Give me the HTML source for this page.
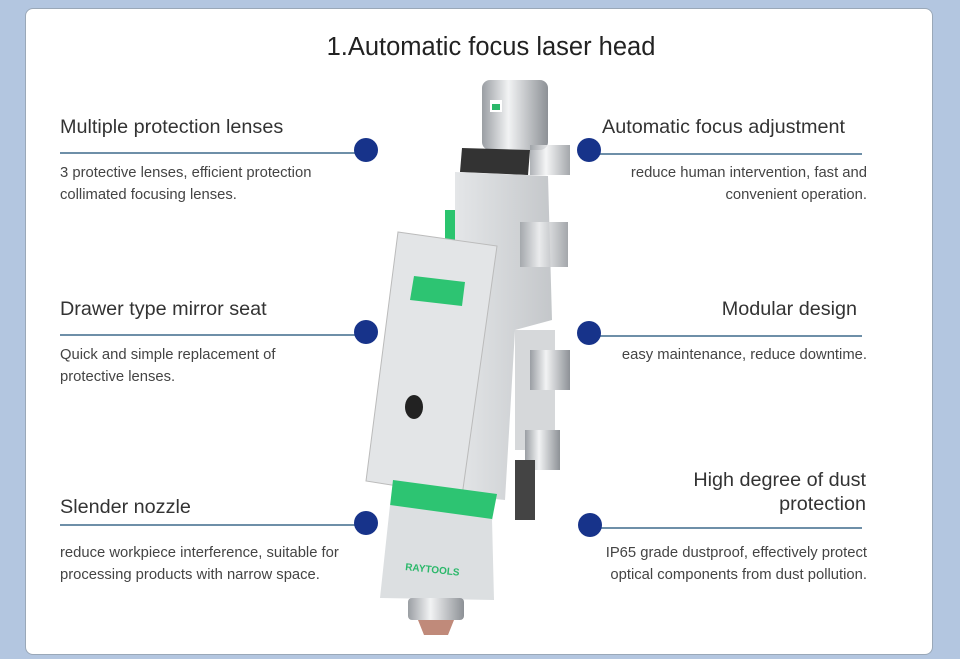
<!DOCTYPE html>
<html><head><meta charset="utf-8"><style>
body{margin:0;width:960px;height:659px;background:#b3c6e0;position:relative;overflow:hidden;font-family:"Liberation Sans",sans-serif}
.card{position:absolute;left:25px;top:8px;width:908px;height:647px;background:#fff;border-radius:8px;border:1px solid #9aa8b8;box-sizing:border-box}
.t{position:absolute;white-space:nowrap}
.h{font-size:19.8px;color:#333}
.d{font-size:14.8px;color:#444;line-height:22px}
.r{text-align:right}
.ln{position:absolute;height:2px;background:#6e8fa8}
.dot{position:absolute;width:24px;height:24px;border-radius:50%;background:#17338a}
</style></head><body>
<div class="card"></div>
<div class="t" style="left:0;width:982px;text-align:center;top:33px;font-size:25.5px;color:#222">1.Automatic focus laser head</div>

<div class="t h" style="left:60px;top:116px">Multiple protection lenses</div>
<div class="ln" style="left:60px;top:152px;width:300px"></div><div class="dot" style="left:354px;top:138px"></div>
<div class="t d" style="left:60px;top:162px">3 protective lenses, efficient protection<br>collimated focusing lenses.</div>

<div class="t h" style="left:60px;top:298px">Drawer type mirror seat</div>
<div class="ln" style="left:60px;top:334px;width:300px"></div><div class="dot" style="left:354px;top:320px"></div>
<div class="t d" style="left:60px;top:344px">Quick and simple replacement of<br>protective lenses.</div>

<div class="t h" style="left:60px;top:496px">Slender nozzle</div>
<div class="ln" style="left:60px;top:524px;width:300px"></div><div class="dot" style="left:354px;top:511px"></div>
<div class="t d" style="left:60px;top:542px">reduce workpiece interference, suitable for<br>processing products with narrow space.</div>

<div class="t h r" style="right:115px;top:116px">Automatic focus adjustment</div>
<div class="ln" style="left:595px;top:153px;width:267px"></div><div class="dot" style="left:577px;top:138px"></div>
<div class="t d r" style="right:93px;top:162px">reduce human intervention, fast and<br>convenient operation.</div>

<div class="t h r" style="right:103px;top:298px">Modular design</div>
<div class="ln" style="left:595px;top:335px;width:267px"></div><div class="dot" style="left:577px;top:321px"></div>
<div class="t d r" style="right:93px;top:344px">easy maintenance, reduce downtime.</div>

<div class="t h r" style="right:94px;top:468px;line-height:24px">High degree of dust<br>protection</div>
<div class="ln" style="left:595px;top:527px;width:267px"></div><div class="dot" style="left:578px;top:513px"></div>
<div class="t d r" style="right:93px;top:542px">IP65 grade dustproof, effectively protect<br>optical components from dust pollution.</div>

<svg style="position:absolute;left:0;top:0" width="960" height="659">
<defs><linearGradient id="m" x1="0" x2="1"><stop offset="0" stop-color="#9a9ea3"/><stop offset=".4" stop-color="#f2f3f4"/><stop offset="1" stop-color="#8d9196"/></linearGradient>
<linearGradient id="b" x1="0" x2="1"><stop offset="0" stop-color="#e4e6e8"/><stop offset="1" stop-color="#c4c7ca"/></linearGradient></defs>
<rect x="482" y="80" width="66" height="70" rx="8" fill="url(#m)"/>
<rect x="490" y="100" width="12" height="12" fill="#fff"/><rect x="492" y="104" width="8" height="6" fill="#2bb86a"/>
<polygon points="462,148 530,150 528,175 460,172" fill="#333"/>
<rect x="530" y="145" width="40" height="30" fill="url(#m)" opacity=".8"/>
<polygon points="455,172 548,176 552,320 515,330 505,500 455,495" fill="url(#b)"/>
<rect x="520" y="222" width="48" height="45" fill="url(#m)" opacity=".8"/>
<rect x="445" y="210" width="10" height="30" fill="#2bc46e"/>
<rect x="515" y="330" width="40" height="120" fill="#d6d8da"/>
<rect x="530" y="350" width="40" height="40" fill="url(#m)"/>
<rect x="525" y="430" width="35" height="40" fill="url(#m)"/>
<rect x="515" y="460" width="20" height="60" fill="#444"/>
<polygon points="398,232 497,246 462,496 366,481" fill="#e3e5e7" stroke="#bbb"/>
<polygon points="414,276 465,282 462,306 410,300" fill="#2dc472"/>
<ellipse cx="414" cy="407" rx="9" ry="12" fill="#222"/>
<polygon points="393,480 497,494 492,520 390,506" fill="#2dc472"/>
<polygon points="390,505 492,519 494,600 380,598" fill="#dcdfe1"/>
<text x="405" y="570" font-size="10" font-weight="bold" fill="#2bb86a" font-family="Liberation Sans" transform="rotate(6 405 570)">RAYTOOLS</text>
<rect x="408" y="598" width="56" height="22" rx="4" fill="url(#m)"/>
<path d="M418,620 L454,620 L448,635 L424,635 Z" fill="#c08a7a"/>
</svg>
</body></html>
